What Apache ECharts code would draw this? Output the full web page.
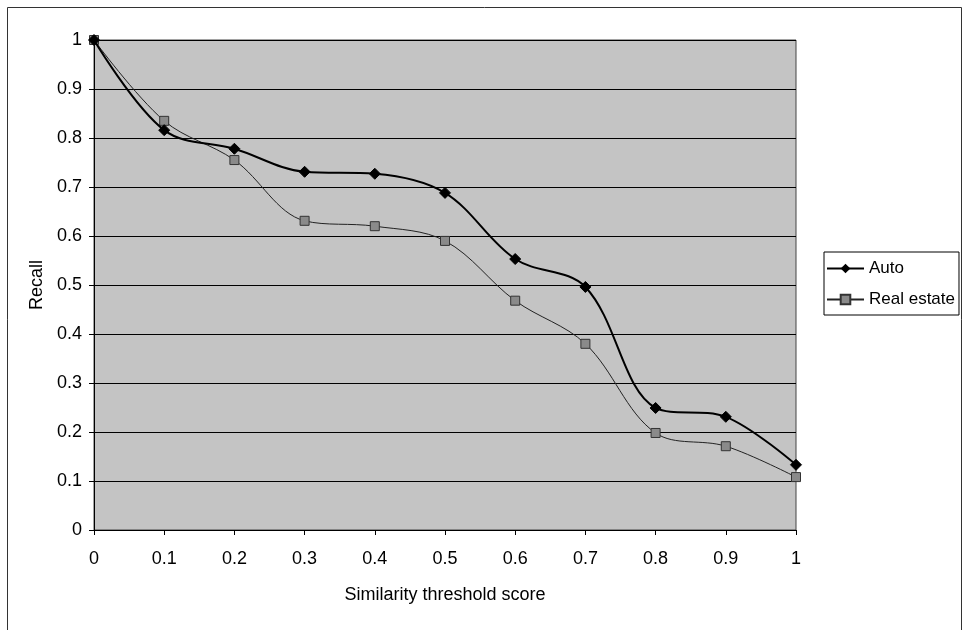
<!DOCTYPE html>
<html lang="en">

<head>
    <meta charset="UTF-8">
    <title>Recall vs similarity threshold</title>
    <style>
        * {
            margin: 0;
            padding: 0;
        }

        body {
            background: #fff;
        }

        #chart {
            width: 965px;
            height: 630px;
        }
    </style>
</head>

<body>
    <div id="chart"></div>
    <script src="https://cdn.jsdelivr.net/npm/echarts@6/dist/echarts.min.js"></script>
    <script type="text/javascript">
        // 数据
        var thresholds = ['0', '0.1', '0.2', '0.3', '0.4', '0.5', '0.6', '0.7', '0.8', '0.9', '1'];
        var autoRecall = [1.0, 0.816, 0.778, 0.731, 0.727, 0.688, 0.553, 0.496, 0.249, 0.231, 0.133];
        var realEstateRecall = [1.0, 0.835, 0.755, 0.631, 0.620, 0.590, 0.468, 0.380, 0.198, 0.171, 0.108];

        var font = 'Liberation Sans, Arial, sans-serif';

        var chart = echarts.init(document.getElementById('chart'));
        var option = {
            backgroundColor: '#fff',
            animation: false,
            textStyle: { fontFamily: font, color: '#000' },
            graphic: [
                {
                    // 外框
                    type: 'rect',
                    shape: { x: 7.5, y: 7.5, width: 954, height: 640 },
                    style: { fill: 'none', stroke: '#333', lineWidth: 1 },
                    silent: true
                }
            ],
            grid: {
                left: 94,
                right: 169,
                top: 40,
                bottom: 100,
                show: true,
                backgroundColor: '#c4c4c4',
                borderColor: '#444',
                borderWidth: 1
            },
            legend: {
                orient: 'vertical',
                left: 824,
                top: 252,
                padding: [8, 4, 7, 2],
                itemWidth: 37,
                itemHeight: 12,
                itemGap: 14,
                borderColor: '#000',
                borderWidth: 1,
                backgroundColor: '#fff',
                textStyle: { fontFamily: font, fontSize: 17, color: '#000' },
                data: ['Auto', 'Real estate']
            },
            xAxis: {
                type: 'category',
                data: thresholds,
                boundaryGap: false,
                name: 'Similarity threshold score',
                nameLocation: 'middle',
                nameGap: 56,
                nameTextStyle: { fontFamily: font, fontSize: 18, color: '#000' },
                axisLine: { lineStyle: { color: '#000', width: 1 } },
                axisTick: { show: true, alignWithLabel: true, length: 5, lineStyle: { color: '#000' } },
                axisLabel: { fontFamily: font, fontSize: 18, color: '#000', margin: 20 },
                splitLine: { show: false }
            },
            yAxis: {
                type: 'value',
                min: 0,
                max: 1,
                interval: 0.1,
                name: 'Recall',
                nameLocation: 'middle',
                nameGap: 46,
                nameRotate: 90,
                nameTextStyle: { fontFamily: font, fontSize: 18, color: '#000' },
                axisLine: { show: true, lineStyle: { color: '#000', width: 1 } },
                axisTick: { show: true, length: 5, lineStyle: { color: '#000' } },
                axisLabel: {
                    fontFamily: font, fontSize: 18, color: '#000', margin: 12,
                    formatter: function (v) { return String(Math.round(v * 10) / 10); }
                },
                splitLine: { show: true, lineStyle: { color: '#000', width: 1 } }
            },
            series: [
                {
                    name: 'Auto',
                    type: 'line',
                    data: autoRecall,
                    smooth: 0.35,
                    symbol: 'diamond',
                    symbolSize: 11,
                    lineStyle: { color: '#000', width: 2 },
                    itemStyle: { color: '#000', borderColor: '#000' },
                    z: 3
                },
                {
                    name: 'Real estate',
                    type: 'line',
                    data: realEstateRecall,
                    smooth: 0.35,
                    symbol: 'rect',
                    symbolSize: 9,
                    lineStyle: { color: '#222', width: 1 },
                    itemStyle: { color: '#8a8a8a', borderColor: '#333', borderWidth: 1 },
                    z: 2
                }
            ]
        };
        chart.setOption(option);
    </script>
</body>

</html>
